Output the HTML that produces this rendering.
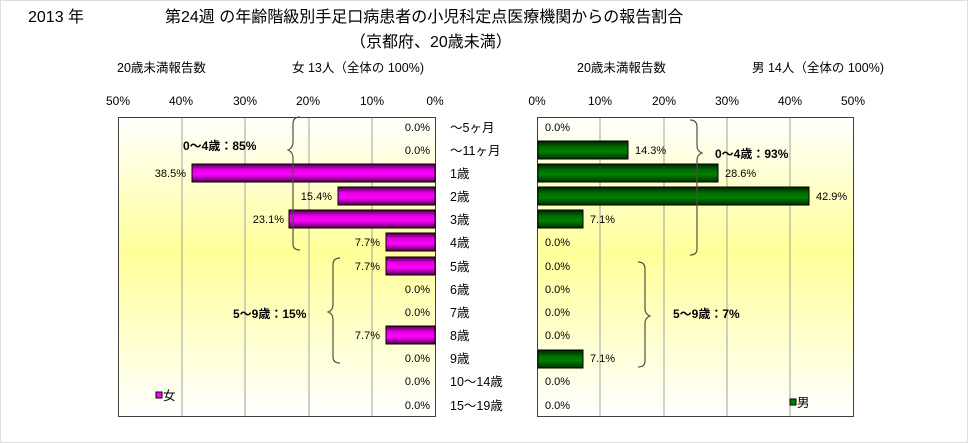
<!DOCTYPE html>
<html><head><meta charset="utf-8"><style>
html,body{margin:0;padding:0;background:#fff;}
svg{display:block;font-family:"Liberation Sans","Noto Sans CJK JP",sans-serif;}
</style></head><body>
<svg width="968" height="443" viewBox="0 0 968 443" xmlns="http://www.w3.org/2000/svg">
<defs>
<linearGradient id="bg" x1="0" y1="0" x2="0" y2="1">
<stop offset="0" stop-color="#ffffff"/><stop offset="0.45" stop-color="#ffff99"/><stop offset="1" stop-color="#ffffff"/>
</linearGradient>
<linearGradient id="pk" x1="0" y1="0" x2="0" y2="1">
<stop offset="0" stop-color="#400040"/><stop offset="0.3" stop-color="#e000e0"/><stop offset="0.6" stop-color="#ff00ff"/><stop offset="1" stop-color="#500050"/>
</linearGradient>
<linearGradient id="gr" x1="0" y1="0" x2="0" y2="1">
<stop offset="0" stop-color="#002000"/><stop offset="0.35" stop-color="#007000"/><stop offset="0.6" stop-color="#008000"/><stop offset="1" stop-color="#003000"/>
</linearGradient>
</defs>
<rect x="0.5" y="0.5" width="967" height="442" fill="#fff" stroke="#ddd"/>
<g font-size="16" fill="#000">
<text x="28" y="22">2013 年</text>
<text x="165" y="22">第24週 の年齢階級別手足口病患者の小児科定点医療機関からの報告割合</text>
<text x="350" y="47">（京都府、20歳未満）</text>
</g>
<g font-size="12.5" fill="#000">
<text x="117" y="72">20歳未満報告数</text>
<text x="292" y="72">女 13人（全体の 100%)</text>
<text x="577" y="72">20歳未満報告数</text>
<text x="752" y="72">男 14人（全体の 100%)</text>
</g>
<g font-size="12" fill="#000" text-anchor="middle">
<text x="118" y="105">50%</text><text x="181" y="105">40%</text><text x="245" y="105">30%</text><text x="308" y="105">20%</text><text x="372" y="105">10%</text><text x="435" y="105">0%</text>
<text x="537" y="105">0%</text><text x="600" y="105">10%</text><text x="664" y="105">20%</text><text x="727" y="105">30%</text><text x="790" y="105">40%</text><text x="853" y="105">50%</text>
</g>
<rect x="118" y="117" width="317" height="300" fill="url(#bg)"/>
<rect x="537" y="117" width="316" height="300" fill="url(#bg)"/>
<g stroke="#a0a0a0" stroke-width="1">
<line x1="182" y1="117" x2="182" y2="417"/><line x1="245" y1="117" x2="245" y2="417"/><line x1="309" y1="117" x2="309" y2="417"/><line x1="372" y1="117" x2="372" y2="417"/>
<line x1="600" y1="117" x2="600" y2="417"/><line x1="664" y1="117" x2="664" y2="417"/><line x1="727" y1="117" x2="727" y2="417"/><line x1="790" y1="117" x2="790" y2="417"/>
</g>
<rect x="118.5" y="117.5" width="317" height="299" fill="none" stroke="#404040"/>
<rect x="537.5" y="117.5" width="316" height="299" fill="none" stroke="#404040"/>
<g stroke="#000" stroke-width="1">
<rect x="192" y="164" width="243" height="18" fill="url(#pk)"/>
<rect x="338" y="187" width="97" height="18" fill="url(#pk)"/>
<rect x="289" y="210" width="146" height="18" fill="url(#pk)"/>
<rect x="386" y="233" width="49" height="18" fill="url(#pk)"/>
<rect x="386" y="257" width="49" height="18" fill="url(#pk)"/>
<rect x="386" y="326" width="49" height="18" fill="url(#pk)"/>
<rect x="538" y="141" width="90" height="18" fill="url(#gr)"/>
<rect x="538" y="164" width="180" height="18" fill="url(#gr)"/>
<rect x="538" y="187" width="271" height="18" fill="url(#gr)"/>
<rect x="538" y="210" width="45" height="18" fill="url(#gr)"/>
<rect x="538" y="350" width="45" height="18" fill="url(#gr)"/>
</g>
<g font-size="11" fill="#000" text-anchor="end">
<text x="430" y="131">0.0%</text><text x="430" y="154">0.0%</text><text x="186" y="177">38.5%</text><text x="332" y="200">15.4%</text><text x="284" y="223">23.1%</text><text x="380" y="246">7.7%</text><text x="380" y="270">7.7%</text><text x="430" y="293">0.0%</text><text x="430" y="316">0.0%</text><text x="380" y="339">7.7%</text><text x="430" y="362">0.0%</text><text x="430" y="385">0.0%</text><text x="430" y="409">0.0%</text>
</g>
<g font-size="11" fill="#000">
<text x="545" y="131">0.0%</text><text x="635" y="154">14.3%</text><text x="725" y="177">28.6%</text><text x="816" y="200">42.9%</text><text x="590" y="223">7.1%</text><text x="545" y="246">0.0%</text><text x="545" y="270">0.0%</text><text x="545" y="293">0.0%</text><text x="545" y="316">0.0%</text><text x="545" y="339">0.0%</text><text x="590" y="362">7.1%</text><text x="545" y="385">0.0%</text><text x="545" y="409">0.0%</text>
</g>
<g font-size="12.5" fill="#000">
<text x="450" y="132">～5ヶ月</text><text x="450" y="155">～11ヶ月</text><text x="450" y="178">1歳</text><text x="450" y="201">2歳</text><text x="450" y="224">3歳</text><text x="450" y="247">4歳</text><text x="450" y="271">5歳</text><text x="450" y="294">6歳</text><text x="450" y="317">7歳</text><text x="450" y="340">8歳</text><text x="450" y="363">9歳</text><text x="450" y="386">10～14歳</text><text x="450" y="410">15～19歳</text>
</g>
<g fill="none" stroke="#505040" stroke-width="1.2">
<path d="M300 117 Q293 117 293 124 L293 142 Q293 148 288 150 Q293 152 293 158 L293 244 Q293 250 300 250"/>
<path d="M340 258 Q333 258 333 265 L333 305 Q333 310 328 312 Q333 314 333 319 L333 357 Q333 363 340 363"/>
<path d="M690 120 Q697 120 697 127 L697 146 Q697 151 702 153 Q697 155 697 160 L697 249 Q697 255 690 255"/>
<path d="M638 262 Q645 262 645 269 L645 309 Q645 314 650 316 Q645 318 645 323 L645 361 Q645 367 638 367"/>
</g>
<g font-size="12" font-weight="bold" fill="#000">
<text x="183" y="150">0～4歳：85%</text>
<text x="233" y="318">5～9歳：15%</text>
<text x="715" y="158">0～4歳：93%</text>
<text x="673" y="318">5～9歳：7%</text>
</g>
<rect x="156" y="392" width="6" height="6" fill="#ff00ff" stroke="#000"/>
<text x="163" y="400" font-size="12.5">女</text>
<rect x="790" y="399" width="6" height="6" fill="#008000" stroke="#000"/>
<text x="797" y="407" font-size="12.5">男</text>
</svg>
</body></html>
